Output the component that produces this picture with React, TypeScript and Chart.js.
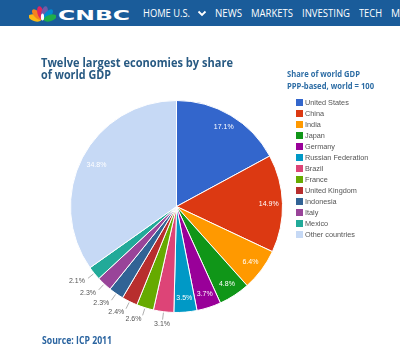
import React, { useEffect, useRef } from 'react';
import { Chart, registerables } from 'chart.js';

Chart.register(...registerables);

// ---- Data ----
const categories = [
  'United States', 'China', 'India', 'Japan', 'Germany', 'Russian Federation',
  'Brazil', 'France', 'United Kingdom', 'Indonesia', 'Italy', 'Mexico', 'Other countries',
];
const shares = [17.1, 14.9, 6.4, 4.8, 3.7, 3.5, 3.1, 2.6, 2.4, 2.3, 2.3, 2.1, 34.8];
const sliceLabels = ['17.1%', '14.9%', '6.4%', '4.8%', '3.7%', '3.5%', '3.1%', '2.6%', '2.4%', '2.3%', '2.3%', '2.1%', '34.8%'];
const sliceColors = [
  '#3366cc', '#dc3912', '#ff9900', '#109618', '#990099', '#0099c6',
  '#dd4477', '#66aa00', '#b82e2e', '#316395', '#994499', '#22aa99', '#c6d9f5',
];
const titleLines = ['Twelve largest economies by share', 'of world GDP'];
const legendTitleLines = ['Share of world GDP', 'PPP-based, world = 100'];
const sourceText = 'Source: ICP 2011';
const navItems = ['HOME U.S.', 'NEWS', 'MARKETS', 'INVESTING', 'TECH', 'MAKE IT'];
const insideThreshold = 3.5;

// ---- helpers ----
let measureCtx: CanvasRenderingContext2D | null = null;
function textScale(text: string, font: string, width: number) {
  if (!measureCtx) measureCtx = document.createElement('canvas').getContext('2d');
  if (!measureCtx) return 1;
  measureCtx.font = font;
  const w = measureCtx.measureText(text).width;
  return w > 0 ? width / w : 1;
}

function Txt(props: {
  text: string; x: number; cy: number; w?: number; size: number; weight?: number | string;
  color: string; family: string;
}) {
  const { text, x, cy, w, size, weight = 400, color, family } = props;
  const font = `${weight} ${size}px ${family}`;
  const s = w ? textScale(text, font, w) : 1;
  return (
    <div
      style={{
        position: 'absolute', left: x, top: cy - size / 2, height: size, lineHeight: `${size}px`,
        fontSize: size, fontWeight: weight as any, fontFamily: family, color, whiteSpace: 'nowrap',
        transform: `scaleX(${s})`, transformOrigin: '0 50%',
      }}
    >
      {text}
    </div>
  );
}

const sliceLabelPlugin = {
  id: 'sliceLabels',
  afterDatasetsDraw(chart: any) {
    const ctx = chart.ctx as CanvasRenderingContext2D;
    const meta = chart.getDatasetMeta(0);
    meta.data.forEach((arc: any, i: number) => {
      const p = arc.getProps(['x', 'y', 'startAngle', 'endAngle', 'outerRadius'], true);
      const mid = (p.startAngle + p.endAngle) / 2;
      const c = Math.cos(mid);
      const s = Math.sin(mid);
      const r = p.outerRadius;
      ctx.save();
      ctx.font = '7px "Liberation Sans", Arial, sans-serif';
      ctx.textBaseline = 'middle';
      if (shares[i] >= insideThreshold) {
        const rr = i === shares.length - 1 ? r * 0.85 : r * 0.87;
        ctx.fillStyle = '#ffffff';
        ctx.textAlign = 'center';
        ctx.fillText(sliceLabels[i], p.x + c * rr, p.y + s * rr);
      } else {
        ctx.strokeStyle = '#9a9a9a';
        ctx.lineWidth = 0.8;
        ctx.beginPath();
        ctx.moveTo(p.x + c * (r + 1), p.y + s * (r + 1));
        ctx.lineTo(p.x + c * (r + 8), p.y + s * (r + 8));
        ctx.stroke();
        ctx.fillStyle = '#555555';
        ctx.textAlign = Math.abs(c) < 0.25 ? 'center' : c < 0 ? 'right' : 'left';
        ctx.fillText(sliceLabels[i], p.x + c * (r + 12), p.y + s * (r + 12));
      }
      ctx.restore();
    });
  },
};

function Peacock() {
  const feathers = ['#fdb913', '#f58220', '#e0245e', '#6e5ba8', '#0089d0', '#1fae4b'];
  const angles = [-72, -43, -14, 14, 43, 72];
  return (
    <svg width={27} height={18} viewBox="0 0 27 18" style={{ position: 'absolute', left: 29, top: 4 }}>
      {feathers.map((col, i) => (
        <ellipse key={i} cx={13.5} cy={8.5} rx={3.2} ry={6.6} fill={col}
          transform={`rotate(${angles[i]} 13.5 16.5)`} />
      ))}
      <ellipse cx={13.5} cy={13} rx={1.6} ry={3.5} fill="#ffffff" />
    </svg>
  );
}

export default function App() {
  const canvasRef = useRef<HTMLCanvasElement | null>(null);

  useEffect(() => {
    if (!canvasRef.current) return;
    const chart = new Chart(canvasRef.current, {
      type: 'pie',
      data: {
        labels: categories,
        datasets: [{
          data: shares,
          backgroundColor: sliceColors,
          borderColor: '#ffffff',
          borderWidth: 1,
        }],
      },
      options: {
        responsive: false,
        animation: false,
        layout: { padding: { left: 70, right: 117, top: 100, bottom: 45 } },
        plugins: {
          legend: { display: false },
          tooltip: { enabled: false },
        },
      },
      plugins: [sliceLabelPlugin],
    });
    return () => chart.destroy();
  }, []);

  const openSans = '"Open Sans", "Noto Sans", sans-serif';
  const arial = '"Liberation Sans", Arial, sans-serif';
  const navX = [143, 215, 251, 302, 359, 391];
  const navW = [47, 27, 42, 48, 23, 38];

  return (
    <div style={{ position: 'absolute', left: 0, top: 0, width: 400, height: 358, overflow: 'hidden', background: '#ffffff' }}>
      {/* header */}
      <div style={{ position: 'absolute', left: 0, top: 0, width: 400, height: 26, background: '#1a5c9a' }} />
      <Peacock />
      <Txt text="CNBC" x={58} cy={14.5} w={72} size={14} weight={700} color="#ffffff" family={'"DejaVu Sans", sans-serif'} />
      {navItems.map((t, i) => (
        <Txt key={t} text={t} x={navX[i]} cy={13.3} w={navW[i]} size={10} color="#ffffff" family={openSans} />
      ))}
      <svg width={10} height={8} style={{ position: 'absolute', left: 197, top: 10 }}>
        <polyline points="1.5,1.5 5,5 8.5,1.5" fill="none" stroke="#ffffff" strokeWidth={1.8} />
      </svg>

      <canvas ref={canvasRef} width={400} height={358} style={{ position: 'absolute', left: 0, top: 0 }} />

      {/* title */}
      <Txt text={titleLines[0]} x={41} cy={62.5} w={192} size={13} weight={700} color="#285a83" family={openSans} />
      <Txt text={titleLines[1]} x={41} cy={74.5} w={70} size={13} weight={700} color="#285a83" family={openSans} />

      {/* legend */}
      <Txt text={legendTitleLines[0]} x={287} cy={73.5} w={73} size={9} weight={700} color="#2d6da5" family={openSans} />
      <Txt text={legendTitleLines[1]} x={287} cy={85} w={87} size={9} weight={700} color="#2d6da5" family={openSans} />
      {categories.map((c, i) => {
        const cy = 102.3 + i * 11.03;
        return (
          <React.Fragment key={c}>
            <div style={{ position: 'absolute', left: 296, top: cy - 3.5, width: 7, height: 7, background: sliceColors[i] }} />
            <Txt text={c} x={305} cy={cy} size={7.3} color="#555555" family={arial} />
          </React.Fragment>
        );
      })}

      {/* source */}
      <Txt text={sourceText} x={42} cy={340} w={70} size={10} weight={700} color="#2a64a0" family={openSans} />
    </div>
  );
}
